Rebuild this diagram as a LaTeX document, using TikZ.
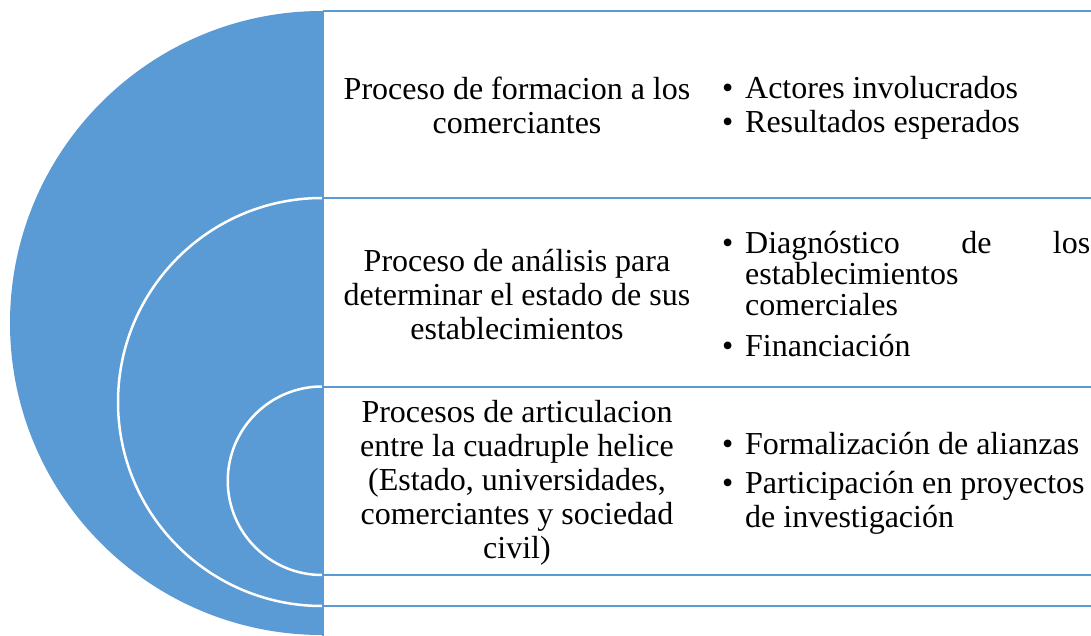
\documentclass[tikz,border=0pt]{standalone}
\usepackage{fontspec}
\setmainfont{Liberation Serif}
\definecolor{diagblue}{HTML}{5B9BD5}
\tikzset{
  rule/.style={draw=diagblue, line width=2pt},
  ring/.style={draw=white, line width=2.5pt},
  proc/.style={align=center, inner sep=0pt, font=\fontsize{32}{34}\selectfont},
  items/.style={align=left, inner sep=0pt, anchor=west, font=\fontsize{32}{34}\selectfont},
}
\newcommand{\itm}{\makebox[23pt][l]{\textbullet}}
\newcommand{\hang}{\hspace*{23pt}}

\begin{document}
\begin{tikzpicture}[x=1pt,y=-1pt]
                \useasboundingbox (0,0) rectangle (1091,636);
                % Half disc and rings:
                \fill[diagblue] (322,11) arc[start angle=270, end angle=90, radius=312] -- cycle;
                \draw[ring] (322,198) arc[start angle=270, end angle=90, radius=204];
                \draw[ring] (322,386.5) arc[start angle=270, end angle=90, radius=94.25];
                % Table lines:
                \draw[rule] (323,11) -- (323,636);
                \draw[rule] (323,11) -- (1091,11);
                \draw[rule] (323,198) -- (1091,198);
                \draw[rule] (323,386.5) -- (1091,386.5);
                \draw[rule] (323,575) -- (1091,575);
                \draw[rule] (323,606) -- (1091,606);
                % Processes:
                \node[proc] (formacion) at (517,105) {Proceso de formacion a los\\ comerciantes};
                \node[proc] (analisis) at (517,295) {Proceso de análisis para\\ determinar el estado de sus\\ establecimientos};
                \node[proc] (articulacion) at (517,483) {Procesos de articulacion\\ entre la cuadruple helice\\ (Estado, universidades,\\ comerciantes y sociedad\\ civil)};
                % Items:
                \node[items] (actores) at (722,108) {\itm Actores involucrados\\[0pt] \itm Resultados esperados};
                \node[items] (diagnostico) at (722,294) {\itm\makebox[345pt][s]{Diagnóstico de los}\\[-3pt] \hang establecimientos\\[-3pt] \hang comerciales\\[7pt] \itm Financiación};
                \node[items] (alianzas) at (722,483) {\itm Formalización de alianzas\\[5pt] \itm Participación en proyectos\\ \hang de investigación};
            \end{tikzpicture}
\end{document}
